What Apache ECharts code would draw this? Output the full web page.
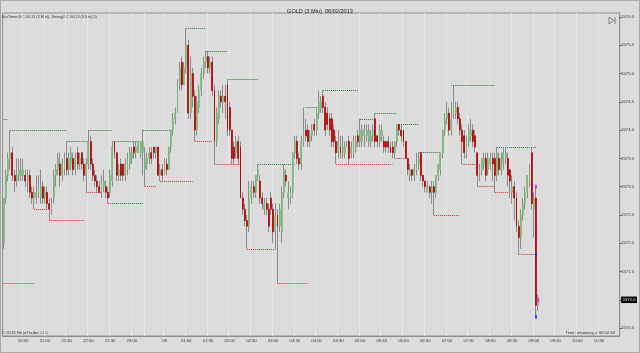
<!DOCTYPE html>
<html><head><meta charset="utf-8">
<script src="https://cdn.jsdelivr.net/npm/echarts@6/dist/echarts.min.js"></script>
<style>html,body{margin:0;padding:0;background:#dcdcdc}#c{width:640px;height:353px}</style>
</head><body><div id="c"></div>
<script>
// ---- data ----
const sessions = [['20:03','23:15'],['00:03','10:57']];
const tickLabels = ['20:30','21:00','21:30','22:00','22:30','23:00','00:30','01:00','01:30','02:00','02:30','03:00','03:30','04:00','04:30','05:00','05:30','06:00','06:30','07:00','07:30','08:00','08:30','09:00','09:30','10:00','10:30'];
const dateLabels = {'00:30':'2/6'};
const priceTicks = [1570.5,1571.0,1571.5,1572.0,1572.5,1573.0,1573.5,1574.0,1574.5,1575.0,1575.5,1576.0];

const opens = [
1572.0,1572.8,1573.2,1573.5,1573.6,1573.2,1573.1,1573.2,1573.2,1573.2,
1573.2,1573.1,1573.2,1572.9,1572.8,1572.8,1572.9,1572.8,1573.0,1572.8,
1572.9,1572.7,1572.6,1572.8,1573.2,1573.3,1573.4,1573.2,1573.3,1573.5,
1573.3,1573.4,1573.5,1573.3,1573.6,1573.4,1573.6,1573.4,1573.2,1573.4,
1573.8,1573.4,1573.2,1573.1,1573.0,1572.9,1573.0,1573.0,1572.9,1572.9,
1573.1,1573.8,1573.6,1573.2,1573.4,1573.4,1573.2,1573.3,1573.4,1573.5,
1573.7,1573.6,1573.6,1573.6,1573.6,
1573.3,1573.4,1573.5,1573.6,1573.7,1573.6,1573.7,1573.2,1573.3,1573.2,
1573.4,1573.3,1573.7,1574.0,1574.2,1574.3,1574.8,1575.2,1574.8,1575.1,
1575.5,1574.3,1575.0,1574.6,1574.0,1574.4,1574.7,1575.0,1575.2,1575.3,
1575.1,1575.2,1574.7,1573.8,1574.2,1574.6,1574.5,1574.6,1574.8,1574.4,
1574.0,1573.7,1573.6,1573.8,1573.7,1572.8,1572.6,1572.4,1572.3,1572.8,
1573.0,1572.9,1573.2,1573.1,1572.8,1572.6,1572.7,1572.6,1572.8,1572.6,
1572.2,1572.5,1572.3,1572.2,1572.9,1573.2,1572.8,1572.8,1572.9,1573.6,
1573.8,1573.5,1573.4,1573.8,1574.0,1574.0,1573.8,1573.9,1574.1,1574.0,
1574.3,1574.4,1574.6,1574.4,1574.3,1574.2,1574.2,1574.0,1573.8,1573.6,
1573.7,1573.6,1573.6,1573.8,1573.8,1573.6,1573.6,1573.7,1573.9,1573.8,
1573.8,1573.9,1573.9,1573.8,1573.8,1573.9,1574.2,1573.9,1573.8,1573.9,
1573.8,1573.8,1573.8,1573.7,1573.7,1573.6,1573.8,1574.1,1574.0,1574.0,
1573.8,1573.5,1573.2,1573.3,1573.2,1573.3,1573.4,1573.6,1573.2,1573.1,
1572.9,1573.0,1572.9,1573.0,1572.9,1573.2,1573.3,1573.6,1574.0,1574.2,
1574.3,1574.0,1574.3,1574.3,1574.4,1574.2,1574.0,1573.9,1573.6,1573.8,
1573.9,1574.0,1573.9,1573.6,1573.2,1573.3,1573.4,1573.5,1573.3,1573.4,
1573.5,1573.5,1573.2,1573.5,1573.3,1573.4,1573.5,1573.5,1573.3,1572.9,
1573.0,1572.8,1572.3,1572.1,1572.5,1572.7,1572.9,1573.1,1573.6,1572.6,1572.8,1570.9
];
const highs = [
1572.8,1573.3,1573.6,1574.0,1573.7,1573.3,1573.5,1573.5,1573.5,1573.5,
1573.3,1573.3,1573.3,1573.0,1573.0,1573.2,1573.2,1573.3,1573.1,1573.0,
1573.0,1572.8,1572.8,1573.3,1573.4,1573.6,1573.6,1573.5,1573.6,1573.8,
1573.6,1573.7,1573.6,1573.6,1573.7,1573.6,1573.6,1573.5,1573.5,1574.0,
1573.9,1573.5,1573.3,1573.2,1573.1,1573.2,1573.3,1573.1,1573.0,1573.3,
1573.8,1573.8,1573.6,1573.4,1573.5,1573.4,1573.5,1573.6,1573.7,1573.7,
1573.8,1573.8,1573.8,1573.8,1574.0,
1573.7,1573.6,1573.7,1573.7,1573.7,1573.7,1573.7,1573.4,1573.4,1573.5,
1573.5,1573.7,1574.0,1574.3,1574.4,1574.9,1575.2,1575.3,1575.2,1575.8,
1575.6,1575.3,1575.1,1574.7,1574.6,1574.8,1575.1,1575.3,1575.4,1575.4,
1575.3,1575.3,1574.8,1574.4,1574.7,1574.7,1574.8,1574.8,1574.9,1574.5,
1574.0,1573.8,1573.9,1573.9,1573.8,1572.9,1572.7,1572.5,1573.1,1573.1,
1573.1,1573.2,1573.4,1573.2,1572.9,1572.8,1572.8,1572.7,1572.9,1572.7,
1572.7,1572.6,1572.7,1573.0,1573.4,1573.3,1573.1,1573.0,1573.6,1573.9,
1573.9,1573.6,1573.9,1574.4,1574.2,1574.1,1574.0,1574.1,1574.2,1574.4,
1574.7,1574.6,1574.7,1574.5,1574.4,1574.3,1574.3,1574.1,1573.9,1574.0,
1573.9,1573.9,1573.8,1573.8,1573.9,1573.8,1573.9,1573.9,1574.0,1574.2,
1574.1,1574.1,1574.1,1574.1,1574.0,1574.1,1574.3,1573.9,1574.1,1574.1,
1573.9,1573.8,1573.9,1573.8,1573.8,1573.8,1574.1,1574.1,1574.1,1574.0,
1573.8,1573.5,1573.4,1573.3,1573.4,1573.6,1573.6,1573.6,1573.2,1573.1,
1573.1,1573.0,1573.1,1573.1,1573.2,1573.4,1573.6,1574.0,1574.3,1574.5,
1574.4,1574.5,1574.8,1574.5,1574.5,1574.3,1574.1,1574.0,1573.9,1574.1,
1574.2,1574.1,1574.0,1573.6,1573.4,1573.5,1573.6,1573.6,1573.6,1573.6,
1573.6,1573.6,1573.7,1573.6,1573.6,1573.7,1573.7,1573.6,1573.3,1573.2,
1573.1,1572.9,1572.4,1572.6,1572.8,1573.0,1573.2,1573.4,1573.7,1572.9,1573.0,1571.1
];
const lows = [
1571.9,1572.7,1573.1,1573.3,1573.1,1572.9,1573.0,1573.1,1573.1,1573.1,
1573.0,1572.9,1572.8,1572.7,1572.6,1572.7,1572.8,1572.7,1572.7,1572.7,
1572.6,1572.4,1572.5,1572.7,1573.0,1573.2,1573.0,1573.1,1573.2,1573.2,
1573.2,1573.3,1573.2,1573.2,1573.3,1573.3,1573.3,1573.1,1572.9,1573.3,
1573.3,1573.1,1573.0,1572.9,1572.9,1572.8,1572.9,1572.8,1572.7,1572.8,
1573.0,1573.5,1573.1,1573.1,1573.1,1573.1,1573.1,1573.2,1573.3,1573.4,
1573.5,1573.5,1573.6,1573.5,1573.2,
1573.0,1573.3,1573.4,1573.4,1573.5,1573.5,1573.2,1573.1,1573.1,1573.2,
1573.2,1573.3,1573.6,1573.9,1574.1,1574.3,1574.7,1574.7,1574.8,1575.0,
1574.2,1574.2,1574.4,1573.8,1573.9,1574.3,1574.6,1574.9,1575.1,1575.0,
1575.0,1574.6,1573.4,1573.7,1574.1,1574.4,1574.3,1574.2,1573.9,1573.9,
1573.4,1573.4,1573.5,1573.4,1572.8,1572.5,1572.3,1571.9,1572.2,1572.7,
1572.8,1572.8,1573.1,1572.7,1572.6,1572.5,1572.5,1572.2,1572.5,1572.0,
1571.9,1571.3,1572.2,1572.0,1572.8,1573.0,1572.6,1572.7,1572.8,1573.5,
1573.4,1573.3,1573.3,1573.7,1573.8,1573.7,1573.7,1573.8,1573.9,1573.9,
1574.2,1574.3,1574.3,1573.9,1574.0,1573.9,1573.7,1573.7,1573.4,1573.5,
1573.5,1573.5,1573.5,1573.7,1573.4,1573.5,1573.5,1573.6,1573.7,1573.7,
1573.7,1573.7,1573.8,1573.7,1573.7,1573.8,1573.7,1573.7,1573.7,1573.8,
1573.6,1573.6,1573.6,1573.6,1573.5,1573.5,1573.7,1573.9,1573.8,1573.7,
1573.5,1573.2,1573.1,1573.1,1573.1,1573.2,1573.3,1573.1,1573.0,1572.9,
1572.9,1572.8,1572.7,1572.5,1572.8,1573.1,1573.2,1573.5,1573.9,1574.1,
1573.9,1573.9,1574.2,1574.2,1574.1,1573.9,1573.4,1573.5,1573.5,1573.7,
1573.8,1573.7,1573.6,1573.0,1573.1,1573.2,1573.3,1573.1,1573.2,1573.3,
1573.1,1572.9,1573.1,1573.2,1573.2,1573.3,1573.4,1573.0,1572.8,1572.7,
1572.4,1572.2,1571.8,1571.9,1572.4,1572.6,1572.8,1573.0,1572.6,1572.1,1570.7,1570.8
];
const closes = [
1572.8,1573.2,1573.5,1573.6,1573.2,1573.1,1573.2,1573.3,1573.3,1573.3,
1573.1,1573.2,1572.9,1572.8,1572.9,1572.9,1573.0,1573.0,1572.8,1572.9,
1572.7,1572.6,1572.7,1573.2,1573.3,1573.5,1573.2,1573.4,1573.5,1573.3,
1573.5,1573.6,1573.3,1573.5,1573.4,1573.5,1573.4,1573.2,1573.4,1573.8,
1573.4,1573.2,1573.1,1573.0,1572.9,1573.1,1573.1,1572.9,1572.8,1573.2,
1573.7,1573.6,1573.2,1573.3,1573.2,1573.2,1573.4,1573.5,1573.6,1573.6,
1573.6,1573.7,1573.8,1573.8,1573.8,
1573.5,1573.5,1573.6,1573.5,1573.6,1573.7,1573.2,1573.3,1573.2,1573.4,
1573.3,1573.7,1574.0,1574.2,1574.3,1574.8,1575.1,1574.8,1575.1,1575.5,
1574.3,1575.0,1574.6,1574.0,1574.5,1574.7,1575.0,1575.2,1575.3,1575.1,
1575.2,1574.7,1573.8,1574.3,1574.6,1574.5,1574.6,1574.5,1574.0,1574.0,
1573.5,1573.5,1573.8,1573.5,1572.8,1572.6,1572.4,1572.3,1572.8,1573.0,
1572.9,1573.2,1573.3,1572.8,1572.7,1572.7,1572.6,1572.3,1572.6,1572.2,
1572.5,1572.3,1572.6,1572.9,1573.3,1573.1,1572.9,1572.9,1573.6,1573.8,
1573.5,1573.4,1573.8,1574.0,1573.9,1573.8,1573.9,1574.0,1574.0,1574.3,
1574.5,1574.5,1574.4,1574.0,1574.1,1574.0,1573.8,1573.8,1573.6,1573.8,
1573.6,1573.7,1573.7,1573.8,1573.5,1573.7,1573.8,1573.8,1573.8,1574.0,
1574.0,1574.0,1574.0,1574.0,1573.9,1574.0,1573.8,1573.8,1574.0,1574.0,
1573.7,1573.7,1573.7,1573.6,1573.6,1573.8,1574.1,1574.0,1573.9,1573.8,
1573.5,1573.3,1573.3,1573.2,1573.3,1573.4,1573.5,1573.2,1573.1,1573.0,
1573.0,1572.9,1573.0,1572.9,1573.2,1573.4,1573.6,1574.0,1574.2,1574.3,
1574.0,1574.2,1574.5,1574.4,1574.2,1574.0,1573.8,1573.6,1573.8,1574.0,
1574.0,1573.8,1573.7,1573.2,1573.3,1573.5,1573.5,1573.2,1573.5,1573.5,
1573.4,1573.2,1573.6,1573.3,1573.5,1573.6,1573.6,1573.2,1573.1,1573.0,
1572.8,1572.3,1572.1,1572.5,1572.7,1572.9,1573.2,1573.3,1572.7,1572.8,1570.9,1571.0
];

// swing lines: [from bar, to bar, price]
const swingHighs = [
['20:03','20:09',1574.2],['20:12','21:30',1574.0],['21:30','22:00',1573.8],['22:00','22:33',1574.0],
['22:33','23:12',1573.8],['23:15','00:39',1574.0],['01:00','01:27',1575.8],['01:27','01:57',1575.4],
['01:57','02:39',1574.9],['02:39','03:30',1573.4],['03:45','04:06',1574.4],['04:09','04:57',1574.7],
['05:00','05:21',1574.2],['05:21','05:51',1574.3],['05:51','06:21',1574.1],['06:21','06:51',1573.6],
['07:06','08:06',1574.8],['08:09','09:03',1573.7]
];
const swingLows = [
['20:03','20:45',1571.3],['20:45','21:03',1572.6],['21:06','21:54',1572.4],['21:57','22:18',1572.9],
['22:27','23:15',1572.7],['00:03','00:18',1573.0],['00:24','01:09',1573.1],['01:12','01:36',1573.8],
['01:39','02:15',1573.4],['02:24','03:03',1571.9],['03:06','03:48',1571.3],['04:27','05:45',1573.4],
['05:48','06:03',1573.5],['06:42','07:18',1572.5],['07:21','07:39',1573.4],['07:42','08:06',1573.0],
['08:06','08:24',1572.9],['08:39','09:03',1571.8]
];
const markersHigh = [['09:03',1573.0],['09:06',1571.0]];
const markersLow = [['09:03',1571.8],['09:03',1570.7]];

// ---- build ----
function toMin(s){const p=s.split(':');return (+p[0])*60+(+p[1]);}
function fmt(m){return String(Math.floor(m/60)).padStart(2,'0')+':'+String(m%60).padStart(2,'0');}
const times=[];
sessions.forEach(([a,b])=>{for(let m=toMin(a);m<=toMin(b);m+=3) times.push(fmt(m));});
const tickSet = new Set(tickLabels);
const gridSet = new Set(tickLabels.concat(['00:03']));
const lastPrice = closes[closes.length-1];

const ohlc = opens.map((o,i)=>[o, closes[i], lows[i], highs[i]]);
const bodies = opens.map((o,i)=>[o, closes[i], Math.min(o,closes[i]), Math.max(o,closes[i])]);
const idx = t => times.indexOf(t);
const seg = arr => arr.map(([s,e,p])=>({coords:[[idx(s),p],[idx(e),p]]}));

const FONT = 'Liberation Sans, Arial, sans-serif';
const chart = echarts.init(document.getElementById('c'), null, {renderer:'canvas'});
chart.setOption({
  animation:false,
  backgroundColor:'#dcdcdc',
  title:{text:'GOLD (3 Min)  06/02/2013', left:'center', top:3,
    textStyle:{fontSize:5.6, fontWeight:'normal', color:'#222', fontFamily:FONT}},
  grid:{left:2.6, right:19.4, top:13, bottom:17, show:true, borderColor:'#8c8c8c', borderWidth:1, backgroundColor:'#dcdcdc'},
  xAxis:{type:'category', data:times, boundaryGap:true,
    axisLine:{lineStyle:{color:'#8c8c8c'}},
    axisTick:{alignWithLabel:true, length:2, interval:(i,v)=>tickSet.has(v), lineStyle:{color:'#666'}},
    axisLabel:{interval:(i,v)=>tickSet.has(v), fontSize:4.2, margin:2.5, color:'#333', fontFamily:FONT,
      formatter:v=>dateLabels[v]||v},
    splitLine:{show:true, interval:(i,v)=>gridSet.has(v), lineStyle:{color:'#e5e5e5', width:1}}
  },
  yAxis:{type:'value', position:'right', min:1570.36, max:1576.07, scale:true,
    splitLine:{show:false},
    axisLine:{show:true, lineStyle:{color:'#8c8c8c'}},
    axisTick:{show:true, length:2, customValues:priceTicks, lineStyle:{color:'#555'}},
    axisLabel:{customValues:priceTicks, margin:1.5, fontSize:4.2, color:'#333', fontFamily:FONT,
      formatter:v=>Math.abs(v-lastPrice)<1e-6?'{box|'+v.toFixed(1)+'}':v.toFixed(1),
      rich:{box:{backgroundColor:'#000', color:'#fff', fontSize:4.2, fontFamily:FONT, padding:[1.5,1.5,1,1.5]}}}
  },
  series:[
    {type:'candlestick', name:'wick', data:ohlc, barWidth:0.4, silent:true,
      itemStyle:{color:'#8a8a8a', color0:'#8a8a8a', borderColor:'#8a8a8a', borderColor0:'#8a8a8a', borderWidth:1}},
    {type:'candlestick', name:'body', data:bodies, barWidth:1.4, silent:true,
      itemStyle:{color:'#8cc68c', color0:'#b30000', borderColor:'#7cb77c', borderColor0:'#b30000', borderWidth:0.7}},
    {type:'lines', coordinateSystem:'cartesian2d', silent:true, data:seg(swingHighs),
      lineStyle:{color:'#2d6f2d', width:1, type:[1,1], opacity:1}},
    {type:'lines', coordinateSystem:'cartesian2d', silent:true, data:seg(swingLows),
      lineStyle:{color:'#e02424', width:1, type:[1,1], opacity:1}},
    {type:'scatter', silent:true, symbol:'rect', symbolSize:[2,4], itemStyle:{color:'#e020e0'},
      data:markersHigh.map(([t,p])=>[idx(t),p])},
    {type:'scatter', silent:true, symbol:'rect', symbolSize:[2,4], itemStyle:{color:'#1a2ee0'},
      data:markersLow.map(([t,p])=>[idx(t),p])}
  ],
  graphic:[
    {type:'text', left:2, top:15, silent:true,
      style:{text:'BarTimer(GC 04-13 (3 Min)), Swing(GC 04-13 (3 Min),5)', fontSize:3.8, fill:'#333', fontFamily:FONT}},
    {type:'text', left:2, top:331, silent:true,
      style:{text:'© 2013 NinjaTrader, LLC', fontSize:4.2, fill:'#333', fontFamily:FONT}},
    {type:'text', right:25, top:330.5, silent:true,
      style:{text:'Time remaining = 00:02:34', fontSize:4.2, fill:'#333', fontFamily:FONT}},
    {type:'polygon', silent:true, shape:{points:[[609,17],[609,24],[614,20.5]]},
      style:{fill:'none', stroke:'#666', lineWidth:0.8}},
    {type:'line', silent:true, shape:{x1:615,y1:17,x2:615,y2:24}, style:{stroke:'#666', lineWidth:0.8}},
    {type:'rect', silent:true, shape:{x:0.5,y:0.5,width:639,height:352}, style:{fill:'none', stroke:'#a8a8a8', lineWidth:1}}
  ]
});
</script></body></html>
